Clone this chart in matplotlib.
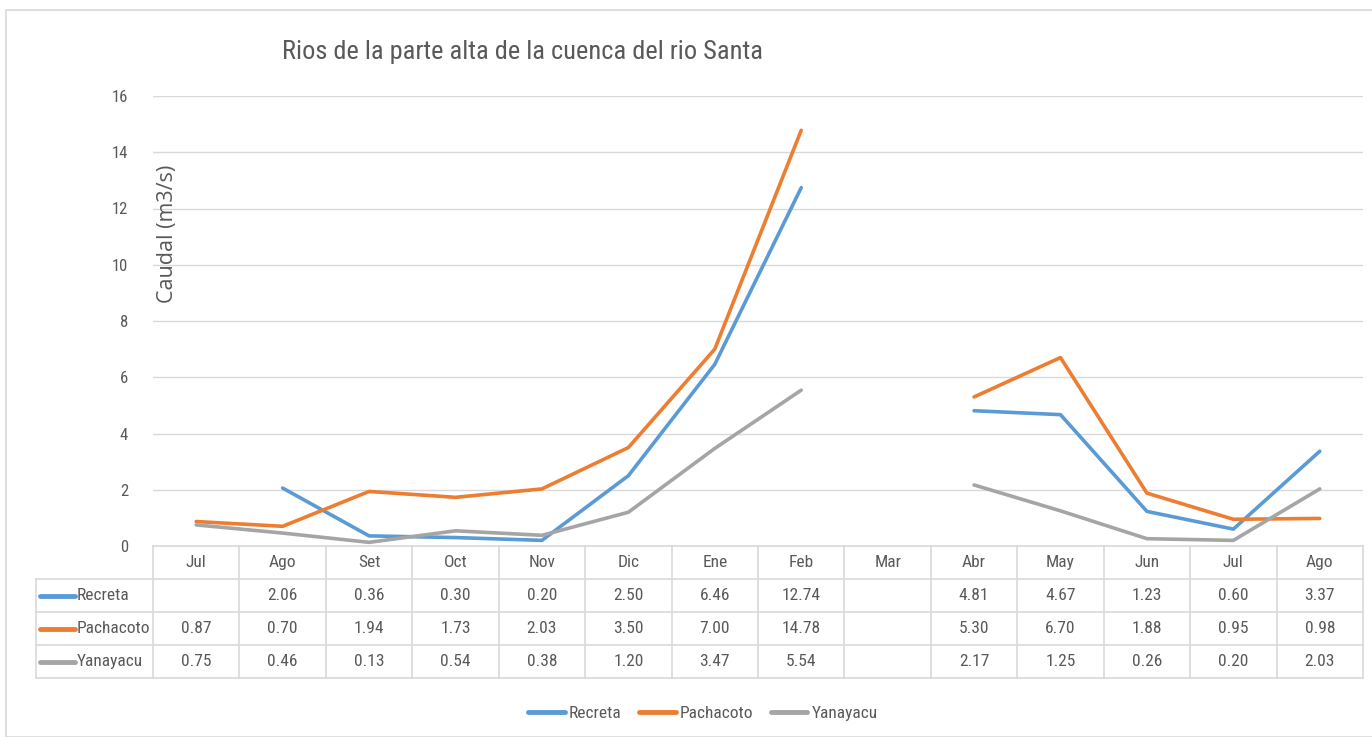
import numpy as np
import matplotlib.pyplot as plt
from matplotlib.lines import Line2D
from matplotlib.patches import Rectangle

months = ['Jul', 'Ago', 'Set', 'Oct', 'Nov', 'Dic', 'Ene', 'Feb', 'Mar',
          'Abr', 'May', 'Jun', 'Jul', 'Ago']
series_names = ['Recreta', 'Pachacoto', 'Yanayacu']
recreta = [np.nan, 2.06, 0.36, 0.30, 0.20, 2.50, 6.46, 12.74, np.nan,
           4.81, 4.67, 1.23, 0.60, 3.37]
pachacoto = [0.87, 0.70, 1.94, 1.73, 2.03, 3.50, 7.00, 14.78, np.nan,
             5.30, 6.70, 1.88, 0.95, 0.98]
yanayacu = [0.75, 0.46, 0.13, 0.54, 0.38, 1.20, 3.47, 5.54, np.nan,
            2.17, 1.25, 0.26, 0.20, 2.03]
colors = ['#5B9BD5', '#ED7D31', '#A5A5A5']

narrow = ['Liberation Sans Narrow', 'DejaVu Sans Condensed', 'Roboto Condensed',
          'DejaVu Sans']
nstretch = 'condensed'
txt = '#595959'
grid_c = '#D9D9D9'

W, H = 1372, 737
fig = plt.figure(figsize=(W / 100, H / 100), dpi=100)

# chart border
fig.patches.append(Rectangle((6 / W, 0), 1.1, (H - 10) / H, transform=fig.transFigure,
                             fill=False, edgecolor=grid_c, linewidth=1.2))

px0, px1 = 153, 1363
ax = fig.add_axes([px0 / W, (H - 546) / H, (px1 - px0) / W, (546 - 96) / H])
x = np.arange(len(months))
all_series = [recreta, pachacoto, yanayacu]
for vals, name, c in zip(all_series, series_names, colors):
    ax.plot(x, vals, color=c, lw=2.6, label=name, solid_capstyle='round',
            solid_joinstyle='round')
ax.set_xlim(-0.5, len(months) - 0.5)
ax.set_ylim(0, 16)
ax.set_yticks(np.arange(0, 17, 2))
ax.set_xticks([])
ax.grid(axis='y', color=grid_c, lw=1)
ax.set_axisbelow(True)
for s in ax.spines.values():
    s.set_visible(False)
ax.tick_params(axis='y', length=0, pad=18, labelcolor=txt)
for lab in ax.get_yticklabels():
    lab.set_family(narrow)
    lab.set_stretch(nstretch)
    lab.set_fontsize(12)

fig.text(168 / W, 1 - 234 / H, 'Caudal (m3/s)', rotation=90, ha='center', va='center',
         color=txt, fontsize=15.5, family=['Open Sans', 'DejaVu Sans'])
fig.text(523 / W, 1 - 52 / H, 'Rios de la parte alta de la cuenca del rio Santa',
         ha='center', va='center', color=txt, fontsize=19, family=narrow,
         stretch=nstretch)

# data table
tab = fig.add_axes([px0 / W, (H - 678) / H, (px1 - px0) / W, (678 - 546) / H])
tab.set_xlim(-0.5, len(months) - 0.5)
tab.set_ylim(4, 0)
tab.axis('off')
lab_w = (px0 - 36) / ((px1 - px0) / len(months))
left = -0.5 - lab_w
right = len(months) - 0.5
lk = dict(color=grid_c, lw=1.2, clip_on=False)
tab.plot([-0.5, right], [0, 0], **lk)
for r in range(1, 5):
    tab.plot([left, right], [r, r], **lk)
tab.plot([left, left], [1, 4], **lk)
for k in range(len(months) + 1):
    tab.plot([k - 0.5, k - 0.5], [0, 4], **lk)
tk = dict(color=txt, fontsize=12.5, family=narrow, stretch=nstretch, va='center')
for i, m in enumerate(months):
    tab.text(i, 0.5, m, ha='center', **tk)
for r, (vals, name, c) in enumerate(zip(all_series, series_names, colors)):
    yc = r + 1.5
    tab.plot([left + 0.05, left + 0.45], [yc, yc], color=c, lw=3.5,
             solid_capstyle='round', clip_on=False)
    tab.text(left + 0.47, yc, name, ha='left', **tk)
    for i, v in enumerate(vals):
        if not np.isnan(v):
            tab.text(i, yc, f'{v:.2f}', ha='center', **tk)

handles = [Line2D([], [], color=c, lw=3.5, solid_capstyle='round') for c in colors]
leg = fig.legend(handles, series_names, loc='center', bbox_to_anchor=(703 / W, 1 - 713 / H),
                 ncol=3, frameon=False, handlelength=2.1, handletextpad=0.25,
                 columnspacing=1.0,
                 prop={'family': narrow, 'size': 12.5, 'stretch': nstretch})
for t in leg.get_texts():
    t.set_color(txt)

fig.savefig('out.png', dpi=100)
